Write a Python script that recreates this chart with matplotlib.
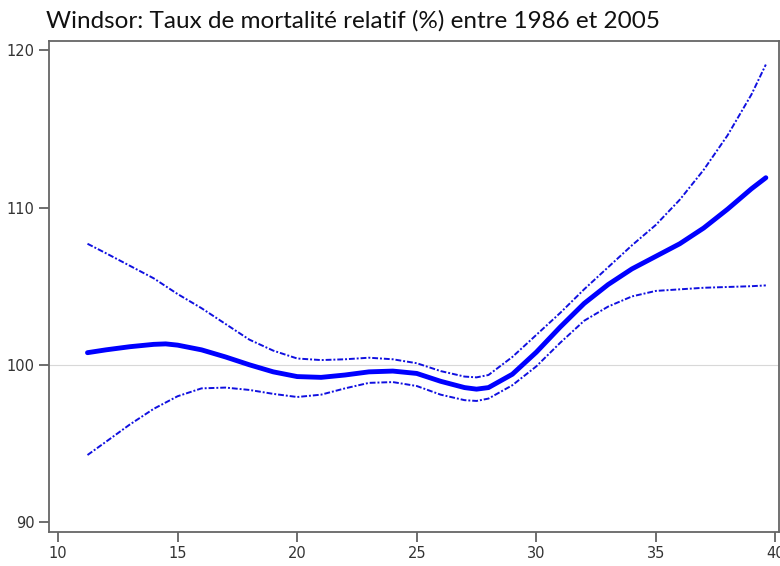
import matplotlib
matplotlib.use("Agg")
import matplotlib.pyplot as plt

# Windsor: relative mortality (%) vs temperature, with confidence band
x = [11.23, 12, 13, 14, 14.5, 15, 16, 17, 18, 19, 20, 21, 22, 23, 24, 25, 26, 27, 27.5,
     28, 29, 30, 31, 32, 33, 34, 35, 36, 37, 38, 39, 39.6]
rr = [100.77, 100.95, 101.15, 101.3, 101.33, 101.25, 100.95, 100.5, 100.0, 99.55, 99.25,
      99.2, 99.35, 99.55, 99.6, 99.45, 98.95, 98.55, 98.45, 98.55, 99.4, 100.8, 102.4,
      103.9, 105.1, 106.1, 106.9, 107.7, 108.7, 109.9, 111.2, 111.9]
upper = [107.7, 107.1, 106.3, 105.5, 105.0, 104.5, 103.6, 102.6, 101.6, 100.9, 100.4,
         100.3, 100.35, 100.45, 100.35, 100.1, 99.6, 99.25, 99.2, 99.35, 100.5, 101.9,
         103.3, 104.8, 106.2, 107.6, 108.9, 110.5, 112.4, 114.6, 117.2, 119.1]
lower = [94.26, 95.1, 96.2, 97.2, 97.6, 98.0, 98.5, 98.55, 98.4, 98.15, 97.95, 98.1, 98.5,
         98.85, 98.9, 98.65, 98.1, 97.75, 97.7, 97.85, 98.7, 99.9, 101.4, 102.8, 103.7,
         104.35, 104.7, 104.8, 104.9, 104.95, 105.0, 105.05]

xticks = [10, 15, 20, 25, 30, 35, 40]
yticks = [90, 100, 110, 120]
title = "Windsor: Taux de mortalité relatif (%) entre 1986 et 2005"

fig = plt.figure(figsize=(7.8, 5.66), dpi=100)
ax = fig.add_axes([0.0622, 0.060, 0.9365, 0.8676])

ax.axhline(100, color="#d8d8d8", linewidth=0.8, zorder=1)
ax.plot(x, upper, color="#1010e0", linewidth=1.4, linestyle=(0, (3, 1, 1, 1)), zorder=2)
ax.plot(x, lower, color="#1010e0", linewidth=1.4, linestyle=(0, (3, 1, 1, 1)), zorder=2)
ax.plot(x, rr, color="#0000ff", linewidth=3.5, solid_capstyle="round",
        solid_joinstyle="round", zorder=3)

ax.set_xlim(9.6, 40.15)
ax.set_ylim(89.36, 120.6)
ax.set_xticks(xticks)
ax.set_yticks(yticks)

for s in ax.spines.values():
    s.set_color("#666666")
    s.set_linewidth(1.3)

tick_family = ["Liberation Sans Narrow", "DejaVu Sans"]
ax.tick_params(direction="out", length=7, width=1.2, color="#555555",
               labelcolor="#333333", pad=3)
for lab in ax.get_xticklabels() + ax.get_yticklabels():
    lab.set_fontfamily(tick_family)
    lab.set_fontsize(10.5)

fig.text(0.059, 0.952, title, fontsize=17.5, family=["Lato", "DejaVu Sans"],
         color="#111111", ha="left", va="baseline")

fig.savefig("out.png", dpi=100)
